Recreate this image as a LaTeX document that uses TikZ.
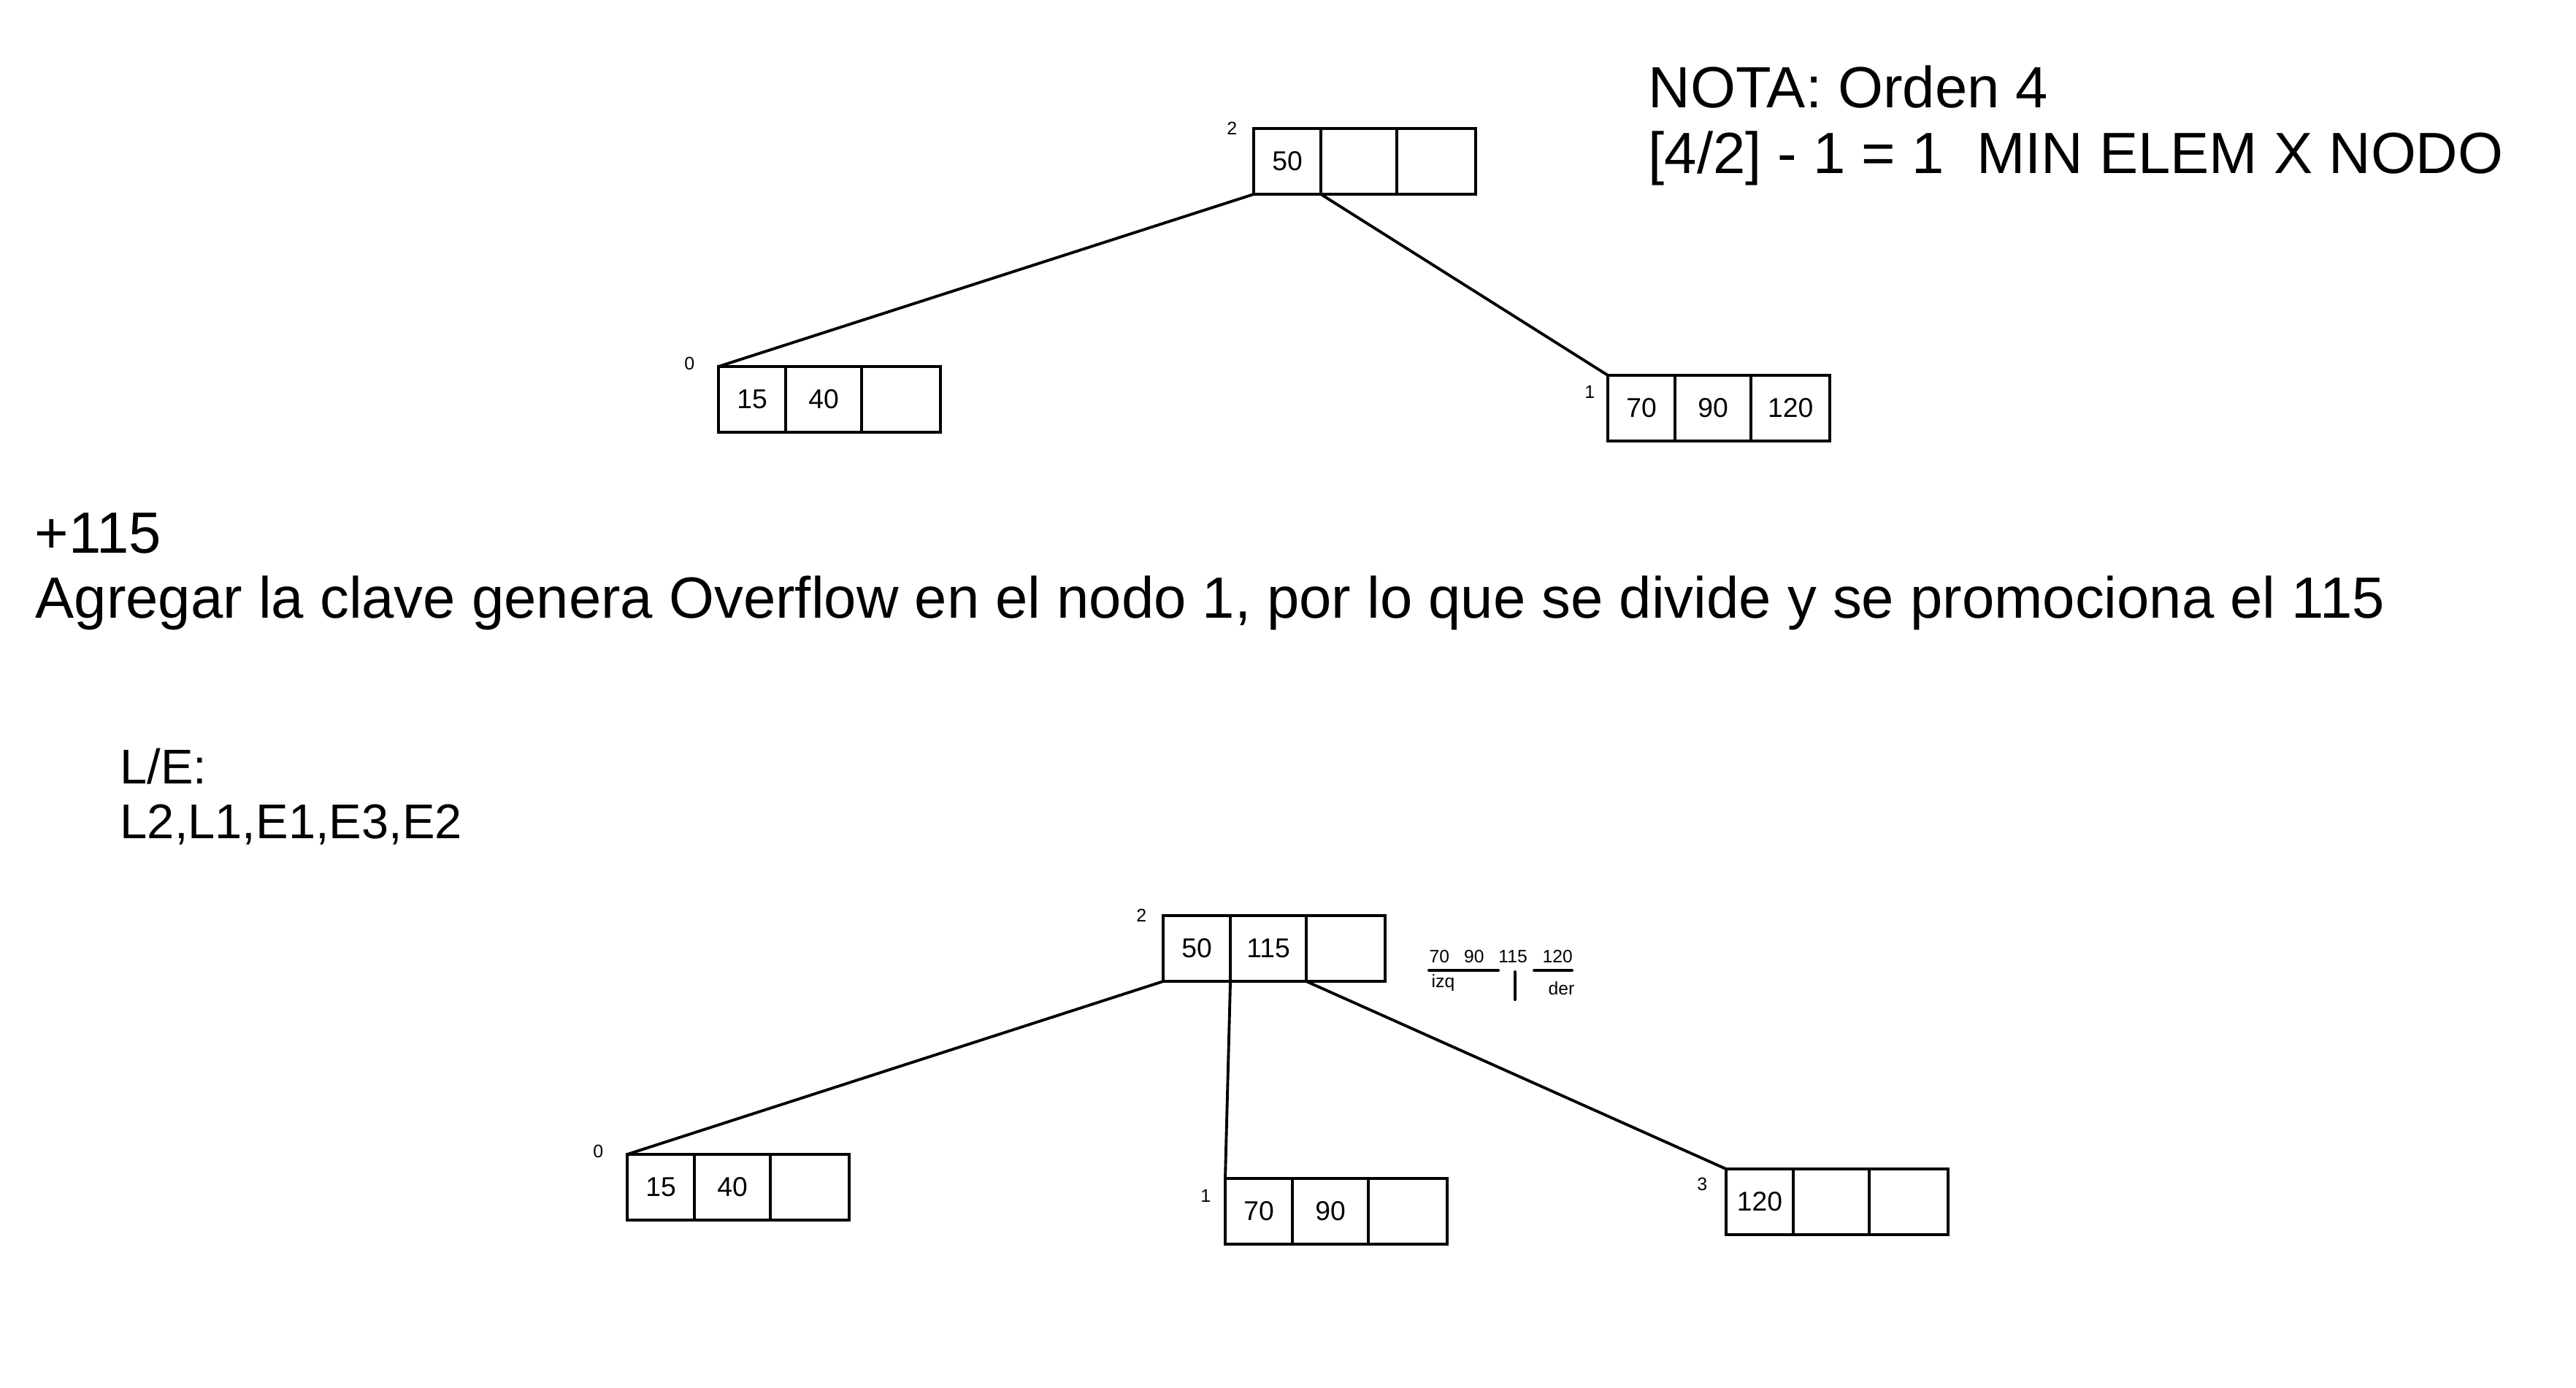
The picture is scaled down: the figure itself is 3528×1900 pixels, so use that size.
\documentclass[tikz,border=0pt]{standalone}
\usepackage{fontspec}
\setmainfont{Liberation Sans}
\usetikzlibrary{positioning}

\begin{document}
\begin{tikzpicture}[
x=0.01cm, y=-0.01cm,
cell/.style={rectangle, draw=black, line width=1.1pt, inner sep=0pt, outer sep=0pt, minimum width=#1, minimum height=0.9cm, font=\fontsize{10.6}{12}\selectfont},
cell/.default=1.04cm,
idx/.style={inner sep=0pt, font=\fontsize{7.1}{8}\selectfont},
txt/.style={anchor=base west, inner sep=0pt, font=\fontsize{22.65}{26}\selectfont},
list/.style={anchor=base west, inner sep=0pt, font=\fontsize{19}{22}\selectfont},
tiny/.style={anchor=base west, inner sep=0pt, font=\fontsize{7}{8}\selectfont},
link/.style={line width=1.1pt}]

\useasboundingbox (0,0) rectangle (3528,1900);

% notes
\node[txt] (nota1) at (2257,148) {NOTA: Orden 4};
\node[txt] (nota2) at (2257,237) {[4/2] - 1 = 1\ \ MIN ELEM X NODO};
\node[txt] (ins) at (47,757) {+115};
\node[txt] (expl) at (48,846) {Agregar la clave genera Overflow en el nodo 1, por lo que se divide y se promociona el 115};
\node[list] (le1) at (164,1073) {L/E:};
\node[list] (le2) at (164,1148) {L2,L1,E1,E3,E2};

% tree before
\node[cell=0.92cm, anchor=north west] (t2a) at (1717,176) {50};
\node[cell] (t2b) [right=0pt of t2a] {};
\node[cell=1.08cm] (t2c) [right=0pt of t2b] {};
\node[idx] (t2n) [left=0.22cm of t2a.north west] {2};

\node[cell=0.92cm, anchor=north west] (t0a) at (984,502) {15};
\node[cell] (t0b) [right=0pt of t0a] {40};
\node[cell=1.08cm] (t0c) [right=0pt of t0b] {};
\node[idx] (t0n) [left=0.32cm of t0a.north west, yshift=0.04cm] {0};

\node[cell=0.92cm, anchor=north west] (t1a) at (2202,514) {70};
\node[cell] (t1b) [right=0pt of t1a] {90};
\node[cell=1.08cm] (t1c) [right=0pt of t1b] {120};
\node[idx] (t1n) [left=0.17cm of t1a.north west, yshift=-0.23cm] {1};

\draw[link] (t2a.south west) -- (t0a.north west);
\draw[link] (t2a.south east) -- (t1a.north west);

% tree after
\node[cell=0.92cm, anchor=north west] (b2a) at (1593,1254) {50};
\node[cell] (b2b) [right=0pt of b2a] {115};
\node[cell=1.08cm] (b2c) [right=0pt of b2b] {};
\node[idx] (b2n) [left=0.22cm of b2a.north west] {2};

\node[cell=0.92cm, anchor=north west] (b0a) at (859,1581) {15};
\node[cell] (b0b) [right=0pt of b0a] {40};
\node[cell=1.08cm] (b0c) [right=0pt of b0b] {};
\node[idx] (b0n) [left=0.32cm of b0a.north west, yshift=0.04cm] {0};

\node[cell=0.92cm, anchor=north west] (b1a) at (1678,1614) {70};
\node[cell] (b1b) [right=0pt of b1a] {90};
\node[cell=1.08cm] (b1c) [right=0pt of b1b] {};
\node[idx] (b1n) [left=0.19cm of b1a.north west, yshift=-0.24cm] {1};

\node[cell=0.92cm, anchor=north west] (b3a) at (2364,1601) {120};
\node[cell] (b3b) [right=0pt of b3a] {};
\node[cell=1.08cm] (b3c) [right=0pt of b3b] {};
\node[idx] (b3n) [left=0.25cm of b3a.north west, yshift=-0.21cm] {3};

\draw[link] (b2a.south west) -- (b0a.north west);
\draw[link] (b2a.south east) -- (b1a.north west);
\draw[link] (b2b.south east) -- (b3a.north west);

% split
\node[tiny] (keys) at (1957,1318) {70\hspace{0.2cm}90\hspace{0.2cm}115\hspace{0.21cm}120};
\node[tiny] (izq) at (1960,1352) {izq};
\node[tiny] (der) at (2120,1362) {der};
\draw[line width=1.1pt, line cap=round] (1957,1329) -- (2052,1329);
\draw[line width=1.1pt, line cap=round] (2101,1329) -- (2153,1329);
\draw[line width=1.1pt, line cap=round] (2075,1331) -- (2075,1369);
\end{tikzpicture}
\end{document}
